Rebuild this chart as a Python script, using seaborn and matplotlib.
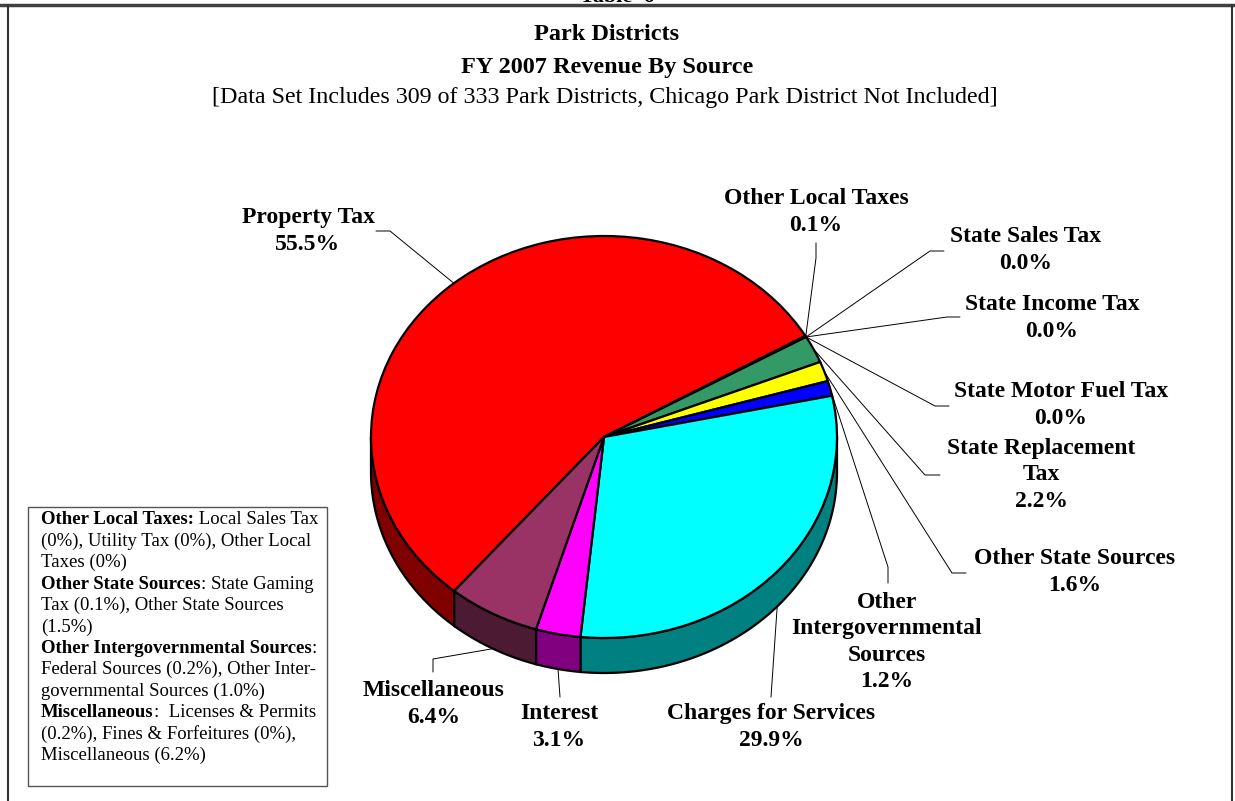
import numpy as np
import matplotlib
matplotlib.use('Agg')
import matplotlib.pyplot as plt
from matplotlib.patches import Polygon, Rectangle
import seaborn as sns

sns.set_theme(style='white')
plt.rcParams['font.family'] = ['Liberation Serif', 'DejaVu Serif']
plt.rcParams['text.color'] = 'black'

# 数据
categories = ['Property Tax', 'Other Local Taxes', 'State Sales Tax', 'State Income Tax',
              'State Motor Fuel Tax', 'State Replacement Tax', 'Other State Sources',
              'Other Intergovernmental Sources', 'Charges for Services', 'Interest',
              'Miscellaneous']
shares = [55.5, 0.1, 0.0, 0.0, 0.0, 2.2, 1.6, 1.2, 29.9, 3.1, 6.4]
label_names = ['Property Tax', 'Other Local Taxes', 'State Sales Tax', 'State Income Tax',
               'State Motor Fuel Tax', 'State Replacement\nTax', 'Other State Sources',
               'Other\nIntergovernmental\nSources', 'Charges for Services', 'Interest',
               'Miscellaneous']
top_colors = ['#FF0000', '#000080', '#808080', '#808080', '#808080', '#339966', '#FFFF00',
              '#0000FF', '#00FFFF', '#FF00FF', '#993366']
side_colors = ['#800000', '#000040', '#404040', '#404040', '#404040', '#1A4D33', '#808000',
               '#000080', '#008080', '#800080', '#4D1A33']

legend_lines = [
    [('Other Local Taxes:', True), (' Local Sales Tax', False)],
    [('(0%), Utility Tax (0%), Other Local', False)],
    [('Taxes (0%)', False)],
    [('Other State Sources', True), (': State Gaming', False)],
    [('Tax (0.1%), Other State Sources', False)],
    [('(1.5%)', False)],
    [('Other Intergovernmental Sources', True), (':', False)],
    [('Federal Sources (0.2%), Other Inter-', False)],
    [('governmental Sources (1.0%)', False)],
    [('Miscellaneous', True), (':  Licenses & Permits', False)],
    [('(0.2%), Fines & Forfeitures (0%),', False)],
    [('Miscellaneous (6.2%)', False)],
]

# 布局（像素坐标）
W, H = 1235, 801
CX, CY, RX, RY = 604, 437, 233, 201
DEPTH = 35 / RY
START = 230.0

label_layout = {
    'Property Tax': ((308, 231), [(390, 231), (376, 231)], 'top'),
    'Other Local Taxes': ((816, 212), [(816, 258), (816, 243)], 'top'),
    'State Sales Tax': ((1026, 250), [(930, 251), (944, 251)], 'top'),
    'State Income Tax': ((1052, 318), [(947, 317), (960, 317)], 'top'),
    'State Motor Fuel Tax': ((1061, 405), [(935, 406), (949, 406)], 'top'),
    'State Replacement Tax': ((1041, 475), [(925, 475), (940, 475)], 'top'),
    'Other State Sources': ((1075, 572), [(952, 573), (966, 573)], 'top'),
    'Other Intergovernmental Sources': ((887, 642), [(888, 567), (888, 583)], 'top'),
    'Charges for Services': ((771, 727), [(771, 697)], 'side'),
    'Interest': ((559, 727), [(560, 697)], 'side'),
    'Miscellaneous': ((434, 704), [(433, 659), (433, 672)], 'side'),
}

fig = plt.figure(figsize=(W / 100, H / 100), dpi=100)
ax_px = fig.add_axes([0, 0, 1, 1], zorder=0)
ax_px.set_xlim(0, W)
ax_px.set_ylim(H, 0)
ax_px.axis('off')

ax = fig.add_axes([0, 0, 1, 1], zorder=1)
wedges, _ = ax.pie(shares, colors=top_colors, startangle=START, counterclock=False,
                   radius=1, center=(0, 0),
                   wedgeprops=dict(edgecolor='black', linewidth=1.6, zorder=2))
ax.set_aspect('auto')
ax.set_xlim(-CX / RX, (W - CX) / RX)
ax.set_ylim((CY - H) / RY, CY / RY)
ax.axis('off')

# 3D 侧面
for w, sc in zip(wedges, side_colors):
    a, b = w.theta1, w.theta2
    for k in (-360, 0, 360):
        lo, hi = max(a, 180 + k), min(b, 360 + k)
        if hi > lo:
            t = np.radians(np.linspace(lo, hi, 80))
            xs = np.concatenate([np.cos(t), np.cos(t[::-1])])
            ys = np.concatenate([np.sin(t), np.sin(t[::-1]) - DEPTH])
            ax.add_patch(Polygon(np.column_stack([xs, ys]), closed=True, facecolor=sc,
                                 edgecolor='black', linewidth=1.6, zorder=1))

to_px = lambda pt: ax_px.transData.inverted().transform(ax.transData.transform(pt))

# 标签与引线
for w, cat, name, v in zip(wedges, categories, label_names, shares):
    (tx, ty), path, mode = label_layout[cat]
    mid = np.radians((w.theta1 + w.theta2) / 2)
    anchor = (np.cos(mid), np.sin(mid) - (DEPTH if mode == 'side' else 0))
    p0 = to_px(anchor)
    xs = [p0[0]] + [p[0] for p in path]
    ys = [p0[1]] + [p[1] for p in path]
    ax_px.plot(xs, ys, color='black', lw=0.7)
    ax_px.text(tx, ty, f'{name}\n{v:.1f}%', ha='center', va='center', fontsize=17,
               fontweight='bold', linespacing=1.32)

# 标题
ax_px.text(617, 2, 'Table  6', ha='center', va='baseline', fontsize=16, fontweight='bold')
ax_px.text(607, 35, 'Park Districts', ha='center', va='center', fontsize=17.5, fontweight='bold')
ax_px.text(607, 67, 'FY 2007 Revenue By Source', ha='center', va='center', fontsize=17.5,
           fontweight='bold')
ax_px.text(605, 98, '[Data Set Includes 309 of 333 Park Districts, Chicago Park District Not Included]',
           ha='center', va='center', fontsize=17.3)

# 外框
ax_px.plot([0, W], [5, 5], color='#404040', lw=2.5)
ax_px.plot([8, 8], [5, H], color='#333333', lw=1.5)
ax_px.plot([1232, 1232], [5, H], color='#333333', lw=1.5)

# 注释框
ax_px.add_patch(Rectangle((28, 507), 299, 279, facecolor='white', edgecolor='#555555', lw=1))
for i, line in enumerate(legend_lines):
    y = 520 + i * 21.4
    prev = None
    for s, bold in line:
        fw = 'bold' if bold else 'normal'
        if prev is None:
            prev = ax_px.text(41, y, s, ha='left', va='center', fontsize=13.5, fontweight=fw)
        else:
            prev = ax_px.annotate(s, xy=(1, 0.5), xycoords=prev, ha='left', va='center',
                                  fontsize=13.5, fontweight=fw)

plt.savefig('out.png', dpi=100)
